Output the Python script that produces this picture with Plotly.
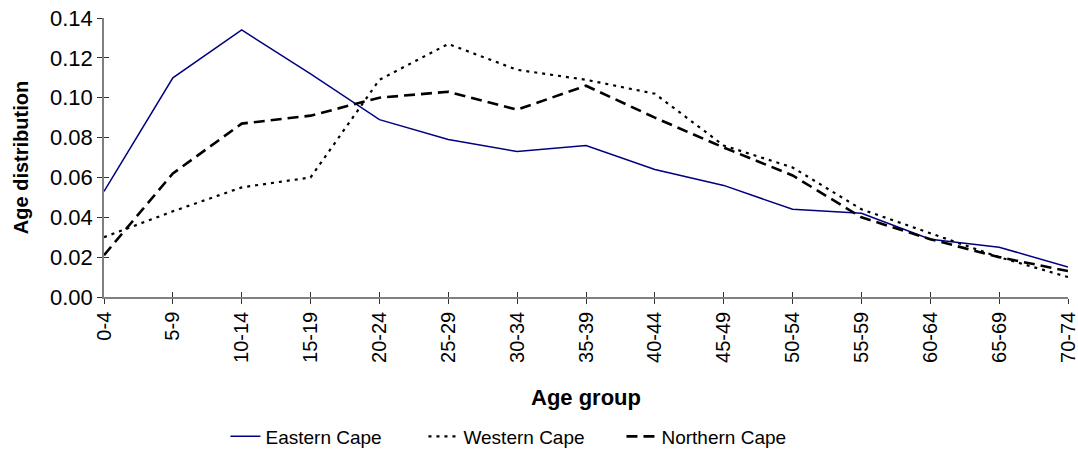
import plotly.graph_objects as go

age_groups = ["0-4", "5-9", "10-14", "15-19", "20-24", "25-29", "30-34", "35-39",
              "40-44", "45-49", "50-54", "55-59", "60-64", "65-69", "70-74"]

eastern_cape = [0.053, 0.110, 0.134, 0.112, 0.089, 0.079, 0.073, 0.076,
                0.064, 0.056, 0.044, 0.042, 0.029, 0.025, 0.015]
western_cape = [0.030, 0.043, 0.055, 0.060, 0.109, 0.127, 0.114, 0.109,
                0.102, 0.076, 0.065, 0.044, 0.032, 0.020, 0.010]
northern_cape = [0.021, 0.062, 0.087, 0.091, 0.100, 0.103, 0.094, 0.106,
                 0.090, 0.075, 0.061, 0.040, 0.029, 0.020, 0.013]

y_ticks = [0.00, 0.02, 0.04, 0.06, 0.08, 0.10, 0.12, 0.14]

FONT = "Liberation Sans, Arial, sans-serif"

fig = go.Figure()
fig.add_trace(go.Scatter(x=age_groups, y=eastern_cape, name="Eastern Cape",
                         mode="lines", line=dict(color="#000080", width=1.5)))
fig.add_trace(go.Scatter(x=age_groups, y=western_cape, name="Western Cape",
                         mode="lines", line=dict(color="#000000", width=2.2, dash="3px,5px")))
fig.add_trace(go.Scatter(x=age_groups, y=northern_cape, name="Northern Cape",
                         mode="lines", line=dict(color="#000000", width=2.6, dash="11px,6px")))

axis_common = dict(showgrid=False, zeroline=False)

fig.update_layout(
    width=1078, height=451,
    margin=dict(l=104, r=10, t=18, b=154, autoexpand=False),
    paper_bgcolor="white", plot_bgcolor="white",
    font=dict(family=FONT, color="black"),
    showlegend=True,
    legend=dict(orientation="h", x=0.126, xanchor="left", y=-0.50, yanchor="middle",
                font=dict(size=19, family=FONT), bgcolor="rgba(0,0,0,0)",
                entrywidth=153, entrywidthmode="pixels", tracegroupgap=0),
    xaxis=dict(
        **axis_common, type="category", range=[0, len(age_groups) - 1],
        showline=True, linecolor="#808080", linewidth=1.5,
        ticks="outside", ticklen=5, tickcolor="#333333", tickwidth=1,
        tickangle=-90, tickfont=dict(size=20, family=FONT),
        title=dict(text="<b>Age group</b>", font=dict(size=22, family=FONT), standoff=28),
        automargin=False,
    ),
    yaxis=dict(
        **axis_common, range=[0, 0.14], tickvals=y_ticks, tickformat=".2f",
        showline=True, linecolor="#808080", linewidth=1.5,
        ticks="outside", ticklen=5, tickcolor="#333333", tickwidth=1,
        tickfont=dict(size=22, family=FONT),
        title=dict(text="<b>Age distribution</b>", font=dict(size=20, family=FONT), standoff=16),
        automargin=False,
    ),
    # companion axes carrying the inner half of the cross-style tick marks
    xaxis2=dict(**axis_common, overlaying="x", matches="x", type="category",
                showticklabels=False, ticks="inside", ticklen=5, tickcolor="#333333",
                tickwidth=1, showline=False),
    yaxis2=dict(**axis_common, overlaying="y", matches="y", tickvals=y_ticks,
                showticklabels=False, ticks="inside", ticklen=5, tickcolor="#333333",
                tickwidth=1, showline=False),
)

# invisible trace anchoring the companion axes
fig.add_trace(go.Scatter(x=age_groups, y=eastern_cape, xaxis="x2", yaxis="y2",
                         mode="lines", line=dict(width=0), showlegend=False,
                         hoverinfo="skip"))

fig.write_html("out.html")
